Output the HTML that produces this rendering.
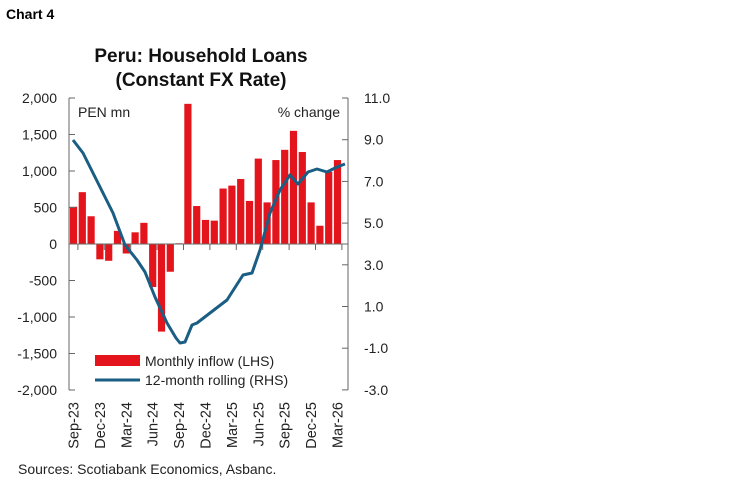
<!DOCTYPE html>
<html><head><meta charset="utf-8"><style>
body{margin:0;background:#fff;}
svg text{font-family:"Liberation Sans",sans-serif;}
</style></head><body>
<svg width="749" height="482" xmlns="http://www.w3.org/2000/svg">
<text x="6" y="19" font-size="14" font-weight="bold" fill="#000">Chart 4</text>
<text x="201" y="62" font-size="19" font-weight="bold" text-anchor="middle" fill="#111">Peru: Household Loans</text>
<text x="201" y="86" font-size="19" font-weight="bold" text-anchor="middle" fill="#111">(Constant FX Rate)</text>
<g stroke="#666" stroke-width="1">
<line x1="69" y1="98" x2="69" y2="390"/>
<line x1="348" y1="98" x2="348" y2="390"/>
</g>
<g id="bars" fill="#e4141c"></g>
<g stroke="#666" stroke-width="1" id="ticks"></g>
<line x1="69" y1="244" x2="348" y2="244" stroke="#666"/>
<g font-size="14" fill="#222" text-anchor="end" id="ly"></g>
<g font-size="14" fill="#222" id="ry"></g>
<text x="78" y="117" font-size="14" fill="#222">PEN mn</text>
<text x="340" y="117" font-size="14" fill="#222" text-anchor="end">% change</text>
<polyline fill="none" stroke="#1b5e84" stroke-width="3" stroke-linejoin="round" points="73,140 83,153 93,173 103,193 113,213 125,245 137,260 145,272 155,297 167,323 176,338 180,343 185,342 192,325 197,323 210,313 227,300 243,275 252,273 260,250 270,213 280,190 290,175 298,184 308,172 317,169 327,172 337,167 345,164"/>
<rect x="95" y="355" width="45" height="11" fill="#e4141c"/>
<text x="145" y="366" font-size="14" fill="#222">Monthly inflow (LHS)</text>
<line x1="95" y1="380" x2="140" y2="380" stroke="#1b5e84" stroke-width="3"/>
<text x="145" y="385" font-size="14" fill="#222">12-month rolling (RHS)</text>
<g font-size="14.5" fill="#222" id="xl"></g>
<text x="18" y="474" font-size="14" fill="#222">Sources: Scotiabank Economics, Asbanc.</text>
</svg>
<script>
var ns="http://www.w3.org/2000/svg";
function el(p,t,a,txt){var e=document.createElementNS(ns,t);for(var k in a)e.setAttribute(k,a[k]);if(txt!=null)e.textContent=txt;document.getElementById(p).appendChild(e);}
var v=[510,710,380,-210,-230,180,-130,160,290,-590,-1200,-380,10,1920,520,330,320,760,800,890,590,1170,570,1150,1290,1550,1260,570,250,990,1150];
function y(val){return 244-val*0.073;}
v.forEach(function(d,i){var c=73.5+8.8*i;var a=y(d);el("bars","rect",{x:c-3.6,y:Math.min(a,244),width:7.2,height:Math.abs(a-244)});});
var ll=["2,000","1,500","1,000","500","0","-500","-1,000","-1,500","-2,000"];
for(var i=0;i<9;i++){var yy=98+36.5*i;el("ly","text",{x:57,y:yy+5},ll[i]);el("ticks","line",{x1:69,y1:yy,x2:75,y2:yy});}
var rl=["11.0","9.0","7.0","5.0","3.0","1.0","-1.0","-3.0"];
for(var i=0;i<8;i++){var yy=98+41.7*i;el("ry","text",{x:364,y:yy+5},rl[i]);el("ticks","line",{x1:342,y1:yy,x2:348,y2:yy});}
var xl=["Sep-23","Dec-23","Mar-24","Jun-24","Sep-24","Dec-24","Mar-25","Jun-25","Sep-25","Dec-25","Mar-26"];
for(var i=0;i<11;i++){var c=73.5+26.4*i;el("xl","text",{x:0,y:0,transform:"translate("+(c+5)+",402) rotate(-90)","text-anchor":"end"},xl[i]);el("ticks","line",{x1:c+4.4,y1:244,x2:c+4.4,y2:250});}
</script>
</body></html>
